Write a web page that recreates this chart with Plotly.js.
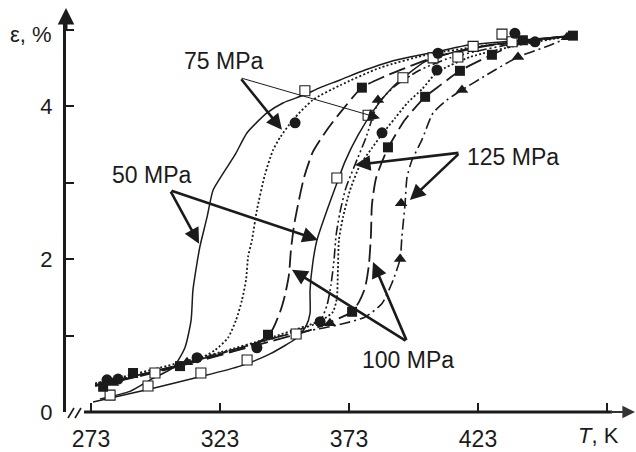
<!DOCTYPE html>
<html>
<head>
<meta charset="utf-8">
<script src="https://cdn.plot.ly/plotly-3.0.1.min.js"></script>
<style>
  html, body { margin: 0; padding: 0; background: #ffffff; }
  #chart { width: 636px; height: 452px; }
</style>
</head>
<body>
<div id="chart"></div>
<script>
// Strain–temperature loops under constant stress: temperature T (K) and strain ε (%)
// for the forward (left) and reverse (right) branch of each stress level.

const T_50_fwd   = [276.5, 288.1, 297.0, 304.8, 309.4, 311.8, 312.5, 314.1, 315.2, 318.0, 320.3, 324.2, 328.8, 333.5, 341.2, 347.4, 355.2, 361.8, 369.5, 379.2, 388.9, 396.6, 407.1, 419.9, 439.3, 459.8];
const eps_50_fwd = [0.17, 0.27, 0.44, 0.58, 0.84, 1.20, 1.59, 1.95, 2.16, 2.55, 2.90, 3.12, 3.36, 3.65, 3.91, 4.04, 4.14, 4.24, 4.34, 4.47, 4.58, 4.64, 4.71, 4.80, 4.86, 4.92];

const T_50_rev   = [273.8, 295.9, 315.2, 330.8, 342.4, 352.8, 356.3, 357.9, 357.9, 359.0, 360.6, 364.5, 368.3, 371.4, 376.5, 383.1, 389.7, 395.9, 402.5, 412.1, 427.7, 443.2, 459.8];
const eps_50_rev = [0.13, 0.30, 0.46, 0.60, 0.76, 0.97, 1.12, 1.29, 1.59, 1.96, 2.25, 2.64, 2.99, 3.27, 3.62, 3.97, 4.24, 4.42, 4.58, 4.69, 4.80, 4.86, 4.92];

const T_75_fwd   = [274.6, 295.9, 313.3, 321.1, 326.1, 329.2, 331.5, 333.1, 333.9, 335.4, 337.3, 340.4, 343.5, 346.3, 351.3, 359.0, 369.5, 385.0, 404.4, 423.8, 459.8];
const eps_75_fwd = [0.37, 0.52, 0.67, 0.81, 0.97, 1.20, 1.46, 1.73, 2.03, 2.25, 2.64, 3.10, 3.42, 3.59, 3.82, 4.08, 4.27, 4.50, 4.68, 4.78, 4.92];

const T_75_rev   = [274.6, 299.7, 323.0, 342.4, 355.9, 362.5, 366.8, 368.3, 368.7, 369.1, 370.7, 373.4, 377.3, 381.9, 385.8, 390.8, 395.9, 401.3, 407.1, 419.9, 439.3, 459.8];
const eps_75_rev = [0.37, 0.58, 0.78, 0.97, 1.12, 1.20, 1.31, 1.49, 1.86, 2.25, 2.55, 2.90, 3.23, 3.45, 3.63, 3.84, 4.05, 4.22, 4.44, 4.64, 4.80, 4.92];

const T_100_fwd   = [274.6, 295.9, 315.2, 330.8, 339.3, 343.2, 346.3, 348.2, 349.7, 350.5, 351.7, 353.6, 355.6, 359.0, 364.5, 369.5, 378.0, 387.0, 396.6, 406.3, 423.8, 459.8];
const eps_100_fwd = [0.34, 0.50, 0.67, 0.82, 0.94, 1.07, 1.31, 1.53, 1.79, 2.12, 2.44, 2.77, 3.07, 3.40, 3.69, 3.91, 4.24, 4.39, 4.52, 4.64, 4.77, 4.92];

const T_100_rev   = [274.6, 299.7, 323.0, 342.4, 357.9, 369.5, 374.2, 376.9, 379.2, 380.7, 381.5, 381.9, 383.5, 388.1, 394.7, 402.5, 408.3, 416.0, 428.4, 440.4, 459.8];
const eps_100_rev = [0.34, 0.54, 0.75, 0.92, 1.07, 1.23, 1.31, 1.44, 1.62, 1.92, 2.31, 2.71, 3.06, 3.45, 3.82, 4.12, 4.27, 4.46, 4.67, 4.84, 4.92];

const T_125_fwd   = [274.6, 299.7, 323.0, 342.4, 355.9, 361.8, 364.5, 366.0, 367.2, 368.0, 369.5, 371.8, 375.3, 379.6, 384.2, 390.8, 400.5, 412.1, 431.5, 459.8];
const eps_125_fwd = [0.35, 0.55, 0.77, 0.95, 1.10, 1.19, 1.40, 1.66, 1.99, 2.31, 2.61, 2.93, 3.23, 3.59, 4.03, 4.26, 4.47, 4.63, 4.78, 4.92];

const T_125_rev   = [274.6, 299.7, 323.0, 346.3, 364.9, 371.4, 379.2, 385.8, 389.7, 392.8, 393.5, 394.7, 395.5, 397.4, 401.3, 405.6, 411.0, 416.8, 426.5, 438.5, 449.0, 459.8];
const eps_125_rev = [0.35, 0.55, 0.76, 0.99, 1.11, 1.16, 1.24, 1.42, 1.69, 2.00, 2.29, 2.71, 3.07, 3.29, 3.56, 3.91, 4.08, 4.21, 4.41, 4.64, 4.77, 4.92];

// Measured points for each stress level
const T_pts_50   = [280.4, 295.1, 297.8, 315.6, 333.5, 352.5, 368.3, 355.9, 380.4, 393.9, 405.6, 415.2, 421.1, 432.3, 436.2];
const eps_pts_50 = [0.22, 0.34, 0.51, 0.51, 0.68, 1.02, 3.06, 4.20, 3.88, 4.37, 4.63, 4.64, 4.78, 4.94, 4.84];

const T_pts_75   = [279.2, 283.5, 314.1, 337.3, 361.8, 352.1, 385.8, 407.1, 407.5, 437.3, 445.1];
const eps_pts_75 = [0.42, 0.43, 0.71, 0.84, 1.18, 3.78, 3.65, 4.47, 4.69, 4.95, 4.84];

const T_pts_100   = [277.7, 289.3, 307.5, 341.6, 374.2, 378.0, 388.1, 402.5, 416.0, 428.4, 440.4, 459.8];
const eps_pts_100 = [0.33, 0.51, 0.60, 1.01, 1.31, 4.24, 3.46, 4.12, 4.46, 4.67, 4.86, 4.92];

const T_pts_125   = [281.5, 310.2, 365.6, 392.8, 393.2, 384.2, 416.8, 438.5, 457.5];
const eps_pts_125 = [0.38, 0.65, 1.16, 2.00, 2.73, 4.08, 4.21, 4.64, 4.90];

// Axis ticks
const xTickVals = [273, 323, 373, 423, 473];
const xTickText = ['273', '323', '373', '423', ''];
const yTickVals = [0, 1, 2, 3, 4, 5];
const yTickText = ['0', '', '2', '', '4', ''];

const stressLabels = ['50 MPa', '75 MPa', '100 MPa', '125 MPa'];

const INK = '#1b1b1b';
const FONT = 'Arial, "Liberation Sans", Helvetica, sans-serif';

// Line styles per branch
const DOT = '2px,2.2px';
const LONGDASH = '17px,6px';
const DASHDOTDOT = '10px,3px,2px,3px,2px,3px';
const DASHDOT = '11px,4px,2px,4px';

function branch(x, y, dash, width) {
  return {
    x: x, y: y, type: 'scatter', mode: 'lines',
    line: { color: INK, width: width, dash: dash, shape: 'spline', smoothing: 0.6 },
    hoverinfo: 'skip'
  };
}
function points(x, y, symbol, size, open) {
  return {
    x: x, y: y, type: 'scatter', mode: 'markers',
    marker: {
      symbol: symbol, size: size,
      color: open ? '#ffffff' : INK,
      line: { color: INK, width: open ? 1.1 : 0 }
    },
    hoverinfo: 'skip'
  };
}

const traces = [
  branch(T_50_fwd, eps_50_fwd, 'solid', 1.5),
  branch(T_50_rev, eps_50_rev, 'solid', 1.5),
  branch(T_75_fwd, eps_75_fwd, DOT, 1.8),
  branch(T_75_rev, eps_75_rev, DOT, 1.8),
  branch(T_100_fwd, eps_100_fwd, LONGDASH, 1.8),
  branch(T_100_rev, eps_100_rev, LONGDASH, 1.8),
  branch(T_125_fwd, eps_125_fwd, DASHDOTDOT, 1.6),
  branch(T_125_rev, eps_125_rev, DASHDOT, 1.6),
  points(T_pts_50, eps_pts_50, 'square', 10, true),
  points(T_pts_75, eps_pts_75, 'circle', 11, false),
  points(T_pts_100, eps_pts_100, 'square', 10, false),
  points(T_pts_125, eps_pts_125, 'triangle-up', 11, false)
];

// Pixel helpers for the axis decorations (plot area: left 66, bottom 412)
const W = 570, H = 398;
const px = v => (v - 66) / W;
const py = v => (412 - v) / H;

function pointer(xTip, yTip, xTail, yTail, width, size) {
  return {
    x: xTip, y: yTip, ax: xTail, ay: yTail,
    xref: 'x', yref: 'y', axref: 'x', ayref: 'y',
    text: '', showarrow: true, arrowhead: 2,
    arrowsize: size, arrowwidth: width, arrowcolor: INK
  };
}
function label(text, x, y) {
  return {
    x: x, y: y, xref: 'x', yref: 'y', text: text, showarrow: false,
    xanchor: 'center', yanchor: 'middle',
    font: { family: FONT, size: 23, color: INK }
  };
}

const annotations = [
  label(stressLabels[0], 296.3, 3.10),
  label(stressLabels[1], 324.2, 4.59),
  label(stressLabels[2], 395.9, 0.68),
  label(stressLabels[3], 436.6, 3.33),
  // 50 MPa
  pointer(314.9, 2.20, 303.6, 2.90, 2.6, 1.2),
  pointer(361.0, 2.25, 303.6, 2.90, 2.6, 1.2),
  // 75 MPa
  pointer(347.0, 3.69, 330.8, 4.37, 2.6, 1.2),
  pointer(385.0, 3.84, 330.8, 4.37, 1.0, 2.4),
  // 100 MPa
  pointer(350.9, 1.86, 395.5, 0.92, 2.6, 1.2),
  pointer(382.3, 1.96, 395.5, 0.92, 2.6, 1.2),
  // 125 MPa
  pointer(375.3, 3.23, 416.0, 3.39, 2.6, 1.2),
  pointer(396.6, 2.77, 416.0, 3.39, 2.6, 1.2),
  // axis titles
  {
    x: px(31), y: py(34), xref: 'paper', yref: 'paper', text: 'ε, %',
    xanchor: 'center', yanchor: 'middle',
    showarrow: false, font: { family: FONT, size: 22, color: INK }
  },
  {
    x: px(598), y: py(435), xref: 'paper', yref: 'paper', text: '<i>T</i>, K',
    xanchor: 'center', yanchor: 'middle',
    showarrow: false, font: { family: FONT, size: 22, color: INK }
  },
  // axis arrowheads
  {
    x: px(66), y: py(8), xref: 'paper', yref: 'paper', ax: 0, ay: 24,
    text: '', showarrow: true, arrowhead: 2, arrowsize: 1.1, arrowwidth: 3, arrowcolor: INK
  },
  {
    x: px(635), y: py(412), xref: 'paper', yref: 'paper', ax: -26, ay: 0,
    text: '', showarrow: true, arrowhead: 2, arrowsize: 1.4, arrowwidth: 1.8, arrowcolor: '#333'
  }
];

const shapes = [
  // horizontal axis line after the scale break
  { type: 'line', xref: 'paper', yref: 'paper', x0: px(84), x1: px(612), y0: 0, y1: 0,
    line: { color: INK, width: 3 } },
  // scale break marks
  { type: 'line', xref: 'paper', yref: 'paper', x0: px(68), y0: py(418), x1: px(74), y1: py(408),
    line: { color: INK, width: 1.6 } },
  { type: 'line', xref: 'paper', yref: 'paper', x0: px(75), y0: py(418), x1: px(81), y1: py(408),
    line: { color: INK, width: 1.6 } }
];

const layout = {
  width: 636, height: 452,
  margin: { l: 66, r: 0, t: 14, b: 40 },
  paper_bgcolor: '#ffffff', plot_bgcolor: '#ffffff',
  showlegend: false,
  xaxis: {
    range: [263.31, 484.24], showgrid: false, zeroline: false, showline: false,
    ticks: 'inside', ticklen: 9, tickwidth: 2, tickcolor: INK,
    tickvals: xTickVals, ticktext: xTickText, ticklabelstandoff: 11,
    tickfont: { family: FONT, size: 23, color: INK }
  },
  yaxis: {
    range: [0, 5.203], showgrid: false, zeroline: false,
    showline: true, linewidth: 3, linecolor: INK,
    ticks: 'inside', ticklen: 8, tickwidth: 2, tickcolor: INK,
    tickvals: yTickVals, ticktext: yTickText, ticklabelstandoff: 6,
    tickfont: { family: FONT, size: 22, color: INK }
  },
  annotations: annotations,
  shapes: shapes
};

Plotly.newPlot('chart', traces, layout, { staticPlot: true, displayModeBar: false });
</script>
</body>
</html>
